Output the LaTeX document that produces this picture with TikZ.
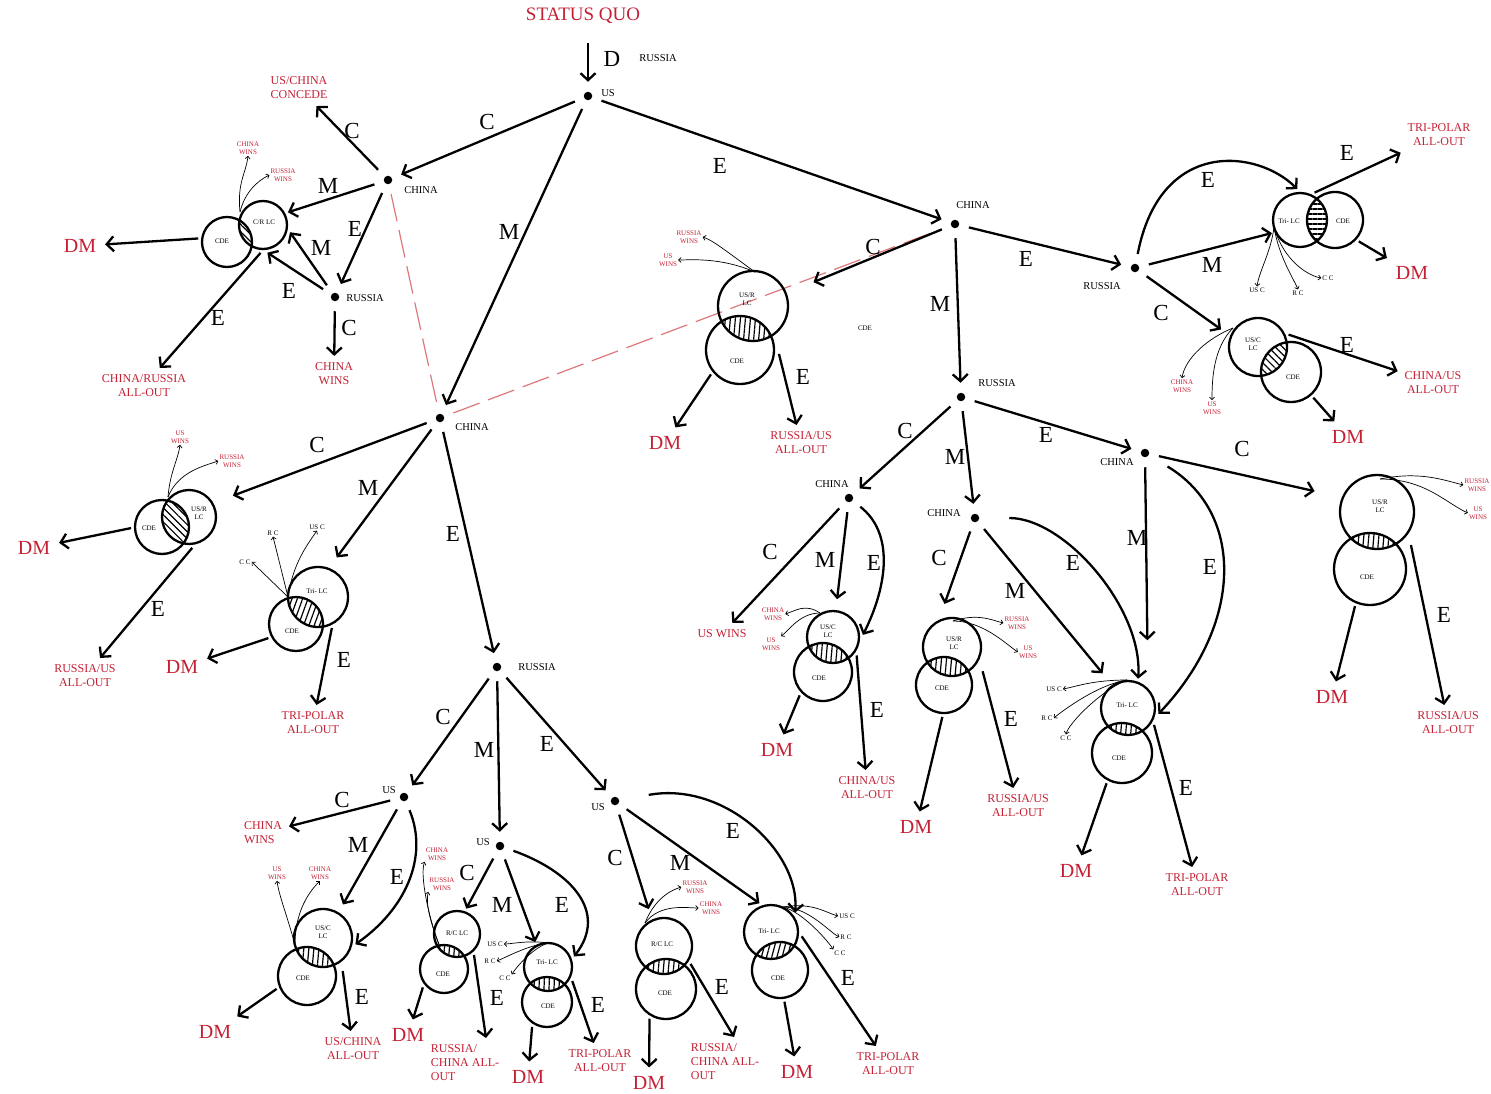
\documentclass[tikz,border=0pt]{standalone}
\usepackage{fontspec}
\setmainfont{Liberation Serif}
\usepackage{xcolor}
\usetikzlibrary{arrows.meta, patterns.meta}
\definecolor{dmred}{RGB}{196, 32, 52}
\definecolor{linkred}{RGB}{222, 120, 120}

% two overlapping rings with a hatched lens: name, centre a, radius a, centre b, radius b, hatch angle
\newcommand{\venn}[6]{%
  \begin{scope}
    \clip (#2) circle (#3pt);
    \fill[pattern={Lines[angle=#6, distance=5pt, line width=1.2pt]}] (#4) circle (#5pt);
  \end{scope}
  \node[ring, minimum size=2*#3pt] (#1a) at (#2) {};
  \node[ring, minimum size=2*#5pt] (#1b) at (#4) {};
}

\begin{document}
\begin{tikzpicture}[x=1pt, y=-1pt,
  dot/.style={circle, fill, inner sep=0pt, minimum size=8.5pt, outer sep=10pt},
  plabel/.style={font=\fontsize{10.5}{12}\selectfont, inner sep=1pt},
  lbl/.style={font=\fontsize{23}{23}\selectfont, inner sep=0pt},
  outc/.style={text=dmred, align=center, font=\fontsize{12}{14}\selectfont, inner sep=1pt, outer sep=6pt},
  dm/.style={text=dmred, font=\fontsize{20}{20}\selectfont, inner sep=1pt, outer sep=8pt},
  win/.style={text=dmred, align=center, font=\fontsize{7}{8.5}\selectfont, inner sep=1pt},
  chc/.style={font=\fontsize{7}{8}\selectfont, inner sep=1pt},
  cl/.style={font=\fontsize{7}{8.5}\selectfont, align=center, inner sep=0pt},
  ring/.style={circle, draw, line width=2.3pt, inner sep=0pt, outer sep=4pt},
  arr/.style={-{Straight Barb[length=7pt, width=15pt]}, line width=2.3pt},
  tarr/.style={-{Straight Barb[length=2.5pt, width=5pt]}, line width=0.7pt},
  link/.style={linkred, line width=1.2pt, dash pattern=on 28pt off 9pt},
]
\useasboundingbox (0,0) rectangle (1491,1094);

% decision points
\node[dot] (us0) at (588,96) {};
\node[dot] (cn1) at (388,180) {};
\node[dot] (ru1) at (335,297) {};
\node[dot] (cn2) at (440,418) {};
\node[dot] (ru2) at (497,667) {};
\node[dot] (usA) at (404,797) {};
\node[dot] (usB) at (500,846) {};
\node[dot] (usC) at (615,801) {};
\node[dot] (cn3) at (955,224) {};
\node[dot] (ru3) at (1135,268) {};
\node[dot] (ru4) at (961,397) {};
\node[dot] (cn4) at (849,498) {};
\node[dot] (cn5) at (975,518) {};
\node[dot] (cn6) at (1145,453) {};

\node[plabel] (us0-n) at (608,93) {US};
\node[plabel] (cn1-n) at (421,190) {CHINA};
\node[plabel] (ru1-n) at (365,298) {RUSSIA};
\node[plabel] (cn2-n) at (472,427) {CHINA};
\node[plabel] (ru2-n) at (537,667) {RUSSIA};
\node[plabel] (usA-n) at (389,790) {US};
\node[plabel] (usB-n) at (483,842) {US};
\node[plabel] (usC-n) at (598,807) {US};
\node[plabel] (cn3-n) at (973,205) {CHINA};
\node[plabel] (ru3-n) at (1102,286) {RUSSIA};
\node[plabel] (ru4-n) at (997,383) {RUSSIA};
\node[plabel] (cn4-n) at (832,484) {CHINA};
\node[plabel] (cn5-n) at (944,513) {CHINA};
\node[plabel] (cn6-n) at (1117,462) {CHINA};

\draw[link] (cn1) -- (cn2);
\draw[link] (cn2) -- (cn3);

% start
\node[outc, font=\fontsize{19}{19}\selectfont] (sq) at (583,16) {STATUS QUO};
\node[lbl] (sq-d) at (612,59) {D};
\node[plabel] (sq-r) at (658,58) {RUSSIA};
\draw[arr, shorten <=12pt] (sq.south -| us0) -- (us0);
\draw[arr] (us0) -- (cn1);
\draw[arr] (us0) -- (cn2);
\draw[arr] (us0) -- (cn3);
\node[lbl] (us0-c) at (487,122) {C};
\node[lbl] (us0-m) at (509,232) {M};
\node[lbl] (us0-e) at (720,166) {E};

% china 1
\venn{v1}{263,225}{24}{227,242}{25}{-45}
\node[cl] (v1-l) at (264,222) {C/R LC};
\node[cl] (v1-c) at (222,241) {CDE};
\node[outc] (o1) at (299,88) {US/CHINA\\CONCEDE};
\node[dm] (dm1) at (80,246) {DM};
\node[outc] (o2) at (144,386) {CHINA/RUSSIA\\ALL-OUT};
\node[outc] (o3) at (334,374) {CHINA\\WINS};
\node[win] (w1a) at (248,148) {CHINA\\WINS};
\node[win] (w1b) at (283,175) {RUSSIA\\WINS};
\coordinate (v1o) at (240,212);
\draw[arr] (cn1) -- (o1);
\draw[arr] (cn1) -- (v1a.27);
\draw[arr] (cn1) -- (ru1);
\draw[arr] (ru1) -- (v1a.-15);
\draw[arr] (ru1) -- (v1a.-81);
\draw[arr] (ru1) -- (o3);
\draw[arr] (v1b.173) -- (dm1);
\draw[arr] (v1a.-95) -- (o2);
\draw[tarr] (v1o) .. controls +(-3,-30) and +(-2,18) .. (w1a.south);
\draw[tarr] (v1o) .. controls +(5,-20) and +(-12,6) .. (w1b.west);
\node[lbl] (cn1-c) at (352,131) {C};
\node[lbl] (cn1-m) at (328,186) {M};
\node[lbl] (cn1-e) at (355,229) {E};
\node[lbl] (ru1-m) at (321,248) {M};
\node[lbl] (ru1-e) at (289,291) {E};
\node[lbl] (ru1-c) at (349,328) {C};
\node[lbl] (v1-e) at (218,318) {E};

% china 2
\venn{v2}{189,517}{27}{162,527}{27}{-45}
\node[cl] (v2-l) at (199,513) {US/R\\LC};
\node[cl] (v2-c) at (149,528) {CDE};
\node[dm] (dm2) at (34,548) {DM};
\node[outc] (o4) at (85,676) {RUSSIA/US\\ALL-OUT};
\node[win] (w2a) at (180,437) {US\\WINS};
\node[win] (w2b) at (232,461) {RUSSIA\\WINS};
\coordinate (v2o) at (168,497);
\venn{v3}{318,597}{30}{296,624}{27}{70}
\node[cl] (v3-l) at (317,591) {Tri- LC};
\node[cl] (v3-c) at (292,631) {CDE};
\node[dm] (dm3) at (182,667) {DM};
\node[outc] (o5) at (313,723) {TRI-POLAR\\ALL-OUT};
\node[chc] (c3a) at (245,562) {C C};
\node[chc] (c3b) at (273,533) {R C};
\node[chc] (c3c) at (317,527) {US C};
\coordinate (v3o) at (288,597);
\draw[arr, shorten >=18pt] (cn2) -- (v2a.29);
\draw[arr, shorten >=10pt] (cn2) -- (v3a.68);
\draw[arr] (cn2) -- (ru2);
\draw[arr] (v2b.182) -- (dm2);
\draw[arr] (v2a.-84) -- (o4);
\draw[arr] (v3b.207) -- (dm3);
\draw[arr] (v3a.-66) -- (o5);
\draw[tarr] (v2o) .. controls +(2,-25) and +(-2,15) .. (w2a.south);
\draw[tarr] (v2o) .. controls +(10,-25) and +(-15,5) .. (w2b.west);
\draw[tarr] (v3o) -- (c3a.east);
\draw[tarr] (v3o) -- (c3b.south);
\draw[tarr] (v3o) .. controls +(5,-35) and +(-8,12) .. (c3c.south);
\node[lbl] (cn2-c) at (317,445) {C};
\node[lbl] (cn2-m) at (368,488) {M};
\node[lbl] (cn2-e) at (453,534) {E};
\node[lbl] (v2-e) at (158,609) {E};
\node[lbl] (v3-e) at (344,660) {E};

% russia 2
\draw[arr] (ru2) -- (usA);
\draw[arr] (ru2) -- (usB);
\draw[arr] (ru2) -- (usC);
\node[lbl] (ru2-c) at (443,717) {C};
\node[lbl] (ru2-m) at (484,750) {M};
\node[lbl] (ru2-e) at (547,744) {E};

% us A
\venn{v4}{323,938}{29}{307,976}{29}{85}
\node[cl] (v4-l) at (323,932) {US/C\\LC};
\node[cl] (v4-c) at (303,978) {CDE};
\node[outc, align=left] (o6) at (263,833) {CHINA\\WINS};
\node[dm] (dm4) at (215,1032) {DM};
\node[outc] (o7) at (353,1049) {US/CHINA\\ALL-OUT};
\node[win] (w4a) at (277,873) {US\\WINS};
\node[win] (w4b) at (320,873) {CHINA\\WINS};
\coordinate (v4o) at (295,945);
\draw[arr] (usA) -- (o6);
\draw[arr, shorten >=6pt] (usA) -- (v4a.59);
\draw[arr] (usA) .. controls +(25,60) and +(50,-35) .. (v4a.-11);
\draw[arr] (v4b.203) -- (dm4);
\draw[arr, shorten <=6pt] (v4a.-55) -- (o7);
\draw[tarr] (v4o) .. controls +(-8,-30) and +(2,15) .. (w4a.south);
\draw[tarr] (v4o) .. controls +(0,-35) and +(-10,10) .. (w4b.south);
\node[lbl] (usA-c) at (342,800) {C};
\node[lbl] (usA-m) at (358,845) {M};
\node[lbl] (usA-e) at (397,877) {E};
\node[lbl] (v4-e) at (362,997) {E};

% us B
\venn{v5}{457,934}{23}{444,969}{24}{85}
\node[cl] (v5-l) at (457,933) {R/C LC};
\node[cl] (v5-c) at (443,974) {CDE};
\node[dm] (dm5) at (408,1035) {DM};
\node[outc, align=left] (o8) at (465,1063) {RUSSIA/\\CHINA ALL-\\OUT};
\node[win] (w5a) at (437,854) {CHINA\\WINS};
\node[win] (w5b) at (442,884) {RUSSIA\\WINS};
\coordinate (v5o) at (440,947);
\venn{v6}{548,967}{24}{547,1002}{25}{88}
\node[cl] (v6-l) at (547,962) {Tri- LC};
\node[cl] (v6-c) at (548,1006) {CDE};
\node[dm] (dm6) at (528,1077) {DM};
\node[outc] (o9) at (600,1061) {TRI-POLAR\\ALL-OUT};
\node[chc] (c6a) at (495,944) {US C};
\node[chc] (c6b) at (490,961) {R C};
\node[chc] (c6c) at (505,978) {C C};
\coordinate (v6o) at (548,943);
\draw[arr] (usB) -- (v5a.70);
\draw[arr] (usB) -- (v6a.117);
\draw[arr] (usB) .. controls +(70,25) and +(35,-45) .. (v6a.22);
\draw[arr] (v5b.221) -- (dm5);
\draw[arr] (v5a.-51) -- (o8.50);
\draw[arr] (v6b.239) -- (dm6);
\draw[arr] (v6a.-30) -- (o9);
\draw[tarr] (v5o) .. controls +(-12,-30) and +(-5,12) .. (w5a.south west);
\draw[tarr] (v5o) .. controls +(-10,-25) and +(-3,10) .. (w5b.south west);
\draw[tarr] (v6o) .. controls +(-20,-3) and +(8,0) .. (c6a.east);
\draw[tarr] (v6o) .. controls +(-20,2) and +(8,-3) .. (c6b.east);
\draw[tarr] (v6o) .. controls +(-15,5) and +(5,-8) .. (c6c.north east);
\node[lbl] (usB-c) at (467,873) {C};
\node[lbl] (usB-m) at (502,905) {M};
\node[lbl] (usB-e) at (562,905) {E};
\node[lbl] (v5-e) at (497,998) {E};
\node[lbl] (v6-e) at (598,1005) {E};

% us C
\venn{v7}{664,946}{28}{666,989}{30}{85}
\node[cl] (v7-l) at (662,944) {R/C LC};
\node[cl] (v7-c) at (665,993) {CDE};
\node[dm] (dm7) at (649,1083) {DM};
\node[outc, align=left] (o10) at (725,1062) {RUSSIA/\\CHINA ALL-\\OUT};
\node[win] (w7a) at (695,887) {RUSSIA\\WINS};
\node[win] (w7b) at (711,908) {CHINA\\WINS};
\coordinate (v7o) at (645,923);
\venn{v8}{771,932}{27}{780,970}{28}{75}
\node[cl] (v8-l) at (769,931) {Tri- LC};
\node[cl] (v8-c) at (778,978) {CDE};
\node[dm] (dm8) at (797,1072) {DM};
\node[outc] (o11) at (888,1064) {TRI-POLAR\\ALL-OUT};
\node[chc] (c8a) at (847,916) {US C};
\node[chc] (c8b) at (846,937) {R C};
\node[chc] (c8c) at (840,953) {C C};
\coordinate (v8o) at (783,907);
\draw[arr, shorten >=8pt] (usC) -- (v7a.114);
\draw[arr] (usC) -- (v8a.112);
\draw[arr, shorten <=20pt] (usC) .. controls +(110,-20) and +(5,-60) .. (v8a.39);
\draw[arr] (v7b.241) -- (dm7);
\draw[arr] (v7a.-34) -- (o10.70);
\draw[arr] (v8b.-82) -- (dm8);
\draw[arr] (v8a.-8) -- (o11);
\draw[tarr] (v7o) .. controls +(10,-25) and +(-10,3) .. (w7a.west);
\draw[tarr] (v7o) .. controls +(15,-20) and +(-12,0) .. (w7b.west);
\draw[tarr] (v8o) .. controls +(30,-5) and +(-12,-3) .. (c8a.west);
\draw[tarr] (v8o) .. controls +(25,0) and +(-10,-5) .. (c8b.west);
\draw[tarr] (v8o) .. controls +(20,5) and +(-5,-8) .. (c8c.north west);
\node[lbl] (usC-c) at (615,858) {C};
\node[lbl] (usC-m) at (680,863) {M};
\node[lbl] (usC-e) at (733,831) {E};
\node[lbl] (v7-e) at (722,987) {E};
\node[lbl] (v8-e) at (848,978) {E};

% china 3
\venn{v9}{753,306}{35}{740,350}{34}{85}
\node[cl] (v9-l) at (747,299) {US/R\\LC};
\node[cl] (v9-c) at (737,361) {CDE};
\node[cl] (v9-x) at (865,328) {CDE};
\node[dm] (dm9) at (665,443) {DM};
\node[outc] (o12) at (801,443) {RUSSIA/US\\ALL-OUT};
\node[win] (w9a) at (689,237) {RUSSIA\\WINS};
\node[win] (w9b) at (668,260) {US\\WINS};
\coordinate (v9o) at (755,272);
\draw[arr, shorten >=26pt] (cn3) -- (v9a.21);
\draw[arr] (cn3) -- (ru4);
\draw[arr] (cn3) -- (ru3);
\draw[arr] (v9b.220) -- (dm9);
\draw[arr, shorten <=4pt] (v9b.0) -- (o12);
\draw[tarr] (v9o) .. controls +(-25,-18) and +(10,3) .. (w9a.east);
\draw[tarr] (v9o) .. controls +(-35,-15) and +(12,0) .. (w9b.east);
\node[lbl] (cn3-c) at (873,247) {C};
\node[lbl] (cn3-m) at (940,304) {M};
\node[lbl] (cn3-e) at (1026,259) {E};
\node[lbl] (v9-e) at (803,377) {E};

% russia 3
\venn{v10}{1300,220}{27}{1335,220}{28}{0}
\node[cl] (v10-l) at (1289,221) {Tri- LC};
\node[cl] (v10-c) at (1343,221) {CDE};
\node[outc] (o13) at (1439,135) {TRI-POLAR\\ALL-OUT};
\node[dm] (dm10) at (1412,273) {DM};
\node[chc] (c10a) at (1257,290) {US C};
\node[chc] (c10b) at (1298,293) {R C};
\node[chc] (c10c) at (1328,278) {C C};
\coordinate (v10o) at (1274,227);
\venn{v11}{1258,347}{29}{1291,372}{30}{-45}
\node[cl] (v11-l) at (1253,344) {US/C\\LC};
\node[cl] (v11-c) at (1293,377) {CDE};
\node[outc] (o14) at (1433,383) {CHINA/US\\ALL-OUT};
\node[dm] (dm11) at (1348,437) {DM};
\node[win] (w11a) at (1182,386) {CHINA\\WINS};
\node[win] (w11b) at (1212,408) {US\\WINS};
\coordinate (v11o) at (1233,328);
\draw[arr] (ru3) .. controls +(25,-130) and +(-40,-40) .. (v10a.95);
\draw[arr] (ru3) -- (v10a.205);
\draw[arr, shorten >=8pt] (ru3) -- (v11a.157);
\draw[arr] (v10a.62) -- (o13);
\draw[arr] (v10b.-42) -- (dm10);
\draw[arr] (v11a.22) -- (o14);
\draw[arr] (v11b.-49) -- (dm11);
\draw[tarr] (v10o) .. controls +(-3,25) and +(2,-15) .. (c10a.north);
\draw[tarr] (v10o) .. controls +(5,30) and +(-5,-12) .. (c10b.north);
\draw[tarr] (v10o) .. controls +(10,35) and +(-12,-2) .. (c10c.west);
\draw[tarr] (v11o) .. controls +(-25,10) and +(3,-20) .. (w11a.north);
\draw[tarr] (v11o) .. controls +(-20,20) and +(0,-20) .. (w11b.north);
\node[lbl] (ru3-e) at (1208,180) {E};
\node[lbl] (ru3-m) at (1212,265) {M};
\node[lbl] (ru3-c) at (1161,313) {C};
\node[lbl] (v10-e) at (1347,153) {E};
\node[lbl] (v11-e) at (1347,345) {E};

% russia 4
\draw[arr] (ru4) -- (cn4);
\draw[arr] (ru4) -- (cn5);
\draw[arr] (ru4) -- (cn6);
\node[lbl] (ru4-c) at (905,431) {C};
\node[lbl] (ru4-m) at (955,457) {M};
\node[lbl] (ru4-e) at (1046,435) {E};

% china 4
\venn{v12}{833,637}{26}{823,672}{29}{85}
\node[cl] (v12-l) at (828,631) {US/C\\LC};
\node[cl] (v12-c) at (819,678) {CDE};
\node[outc] (o15) at (722,634) {US WINS};
\node[dm] (dm12) at (777,750) {DM};
\node[outc] (o16) at (867,788) {CHINA/US\\ALL-OUT};
\node[win] (w12a) at (773,614) {CHINA\\WINS};
\node[win] (w12b) at (771,644) {US\\WINS};
\coordinate (v12o) at (820,613);
\draw[arr] (cn4) -- (o15);
\draw[arr, shorten >=8pt] (cn4) -- (v12a.84);
\draw[arr] (cn4) .. controls +(45,35) and +(25,-50) .. (v12a.4);
\draw[arr] (v12b.225) -- (dm12);
\draw[arr] (v12a.-38) -- (o16);
\draw[tarr] (v12o) .. controls +(-15,-10) and +(10,-3) .. (w12a.east);
\draw[tarr] (v12o) .. controls +(-20,0) and +(8,-6) .. (w12b.north east);
\node[lbl] (cn4-c) at (770,552) {C};
\node[lbl] (cn4-m) at (825,560) {M};
\node[lbl] (cn4-e) at (874,563) {E};
\node[lbl] (v12-e) at (877,710) {E};

% china 5
\venn{v13}{952,647}{29}{944,685}{28}{85}
\node[cl] (v13-l) at (954,643) {US/R\\LC};
\node[cl] (v13-c) at (942,688) {CDE};
\node[dm] (dm13) at (916,827) {DM};
\node[outc] (o17) at (1018,806) {RUSSIA/US\\ALL-OUT};
\node[win] (w13a) at (1017,623) {RUSSIA\\WINS};
\node[win] (w13b) at (1028,652) {US\\WINS};
\coordinate (v13o) at (953,621);
\venn{v14}{1128,708}{27}{1122,753}{30}{85}
\node[cl] (v14-l) at (1127,705) {Tri- LC};
\node[cl] (v14-c) at (1119,758) {CDE};
\node[dm] (dm14) at (1076,871) {DM};
\node[outc] (o18) at (1197,885) {TRI-POLAR\\ALL-OUT};
\node[chc] (c14a) at (1054,689) {US C};
\node[chc] (c14b) at (1047,718) {R C};
\node[chc] (c14c) at (1066,738) {C C};
\coordinate (v14o) at (1127,680);
\draw[arr, shorten >=13pt] (cn5) -- (v13a.111);
\draw[arr, shorten >=12pt] (cn5) -- (v14a.125);
\draw[arr, shorten <=20pt] (cn5) .. controls +(90,0) and +(5,-70) .. (v14a.71);
\draw[arr] (v13b.-93) -- (dm13);
\draw[arr, shorten <=8pt] (v13a.-30) -- (o17);
\draw[arr] (v14b.243) -- (dm14);
\draw[arr] (v14a.-33) -- (o18);
\draw[tarr] (v13o) .. controls +(25,-8) and +(-12,-3) .. (w13a.west);
\draw[tarr] (v13o) .. controls +(30,0) and +(-12,-8) .. (w13b.west);
\draw[tarr] (v14o) .. controls +(-35,0) and +(12,-2) .. (c14a.east);
\draw[tarr] (v14o) .. controls +(-30,5) and +(10,-8) .. (c14b.east);
\draw[tarr] (v14o) .. controls +(-25,10) and +(3,-12) .. (c14c.north);
\node[lbl] (cn5-c) at (939,558) {C};
\node[lbl] (cn5-m) at (1015,591) {M};
\node[lbl] (cn5-e) at (1073,563) {E};
\node[lbl] (v13-e) at (1011,719) {E};
\node[lbl] (v14-e) at (1186,788) {E};

% china 6
\venn{v15}{1377,512}{37}{1370,569}{36}{85}
\node[cl] (v15-l) at (1380,506) {US/R\\LC};
\node[cl] (v15-c) at (1367,577) {CDE};
\node[dm] (dm15) at (1332,697) {DM};
\node[outc] (o19) at (1448,723) {RUSSIA/US\\ALL-OUT};
\node[win] (w15a) at (1477,485) {RUSSIA\\WINS};
\node[win] (w15b) at (1478,513) {US\\WINS};
\coordinate (v15o) at (1380,479);
\draw[arr, shorten >=25pt] (cn6) -- (v15a.158);
\draw[arr, shorten >=44pt] (cn6) -- (v14a.50);
\draw[arr, shorten <=12pt] (cn6) .. controls +(100,60) and +(85,-90) .. (v14a.-11);
\draw[arr] (v15b.248) -- (dm15);
\draw[arr, shorten <=8pt] (v15a.-38) -- (o19);
\draw[tarr] (v15o) .. controls +(40,-8) and +(-20,-5) .. (w15a.west);
\draw[tarr] (v15o) .. controls +(45,0) and +(-22,-10) .. (w15b.west);
\node[lbl] (cn6-c) at (1242,449) {C};
\node[lbl] (cn6-m) at (1137,538) {M};
\node[lbl] (cn6-e) at (1210,567) {E};
\node[lbl] (v15-e) at (1444,615) {E};
\end{tikzpicture}
\end{document}
